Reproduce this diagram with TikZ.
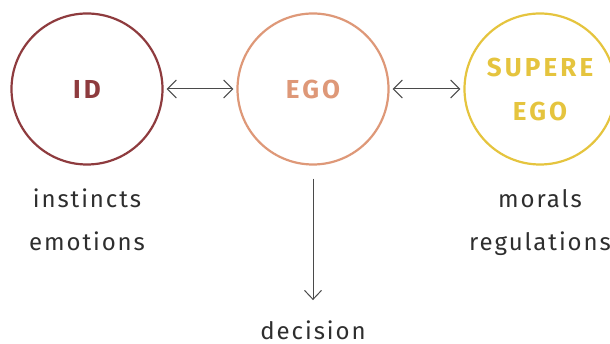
\documentclass[tikz,border=0pt]{standalone}
\usepackage{fontspec}
\setmainfont{Fira Sans}[LetterSpace=8]
\newfontfamily\headfont{Fira Sans}[LetterSpace=12,BoldFont={Fira Sans Bold}]
\usetikzlibrary{arrows.meta}
\definecolor{idcol}{HTML}{8E3B3E}
\definecolor{egocol}{HTML}{DE9878}
\definecolor{supcol}{HTML}{E5C43E}
\definecolor{txtcol}{HTML}{2E2E2E}
\definecolor{arrcol}{HTML}{4A4A4A}
\tikzset{
  psyche/.style={circle, line width=2.2pt, minimum size=151pt, inner sep=0pt, align=center,
    font=\headfont\fontsize{26}{44}\selectfont\bfseries},
  lbl/.style={text=txtcol, font=\fontsize{24}{43}\selectfont, anchor=base, inner sep=0pt},
  tip/.style={Straight Barb[length=9pt,width=18pt]},
  arr/.style={draw=arrcol, line width=1pt, {Straight Barb[length=9pt,width=18pt]}-{Straight Barb[length=9pt,width=18pt]}},
  darr/.style={draw=arrcol, line width=1pt, -{Straight Barb[length=9pt,width=17pt]}}
}
\begin{document}
\begin{tikzpicture}[x=1pt,y=-1pt]
\useasboundingbox (0,0) rectangle (610,344);
\node[psyche, draw=idcol, text=idcol] (id) at (87,89) {ID};
\node[psyche, draw=egocol, text=egocol] (ego) at (313,89) {EGO};
\node[psyche, draw=supcol, text=supcol] (sup) at (540,89) {SUPERE\\EGO};
\node[lbl] (idl1) at (87,208) {instincts};
\node[lbl] (idl2) at (87,251) {emotions};
\node[lbl] (supl1) at (540,208) {morals};
\node[lbl] (supl2) at (540,251) {regulations};
\node[lbl] (dec) at (313,339) {decision};
\draw[arr, shorten <=3pt, shorten >=3pt] (id) -- (ego);
\draw[arr, shorten <=3pt, shorten >=3pt] (ego) -- (sup);
\draw[darr, shorten <=13pt, shorten >=20pt] (ego.south) -- (dec.north);
\end{tikzpicture}
\end{document}
